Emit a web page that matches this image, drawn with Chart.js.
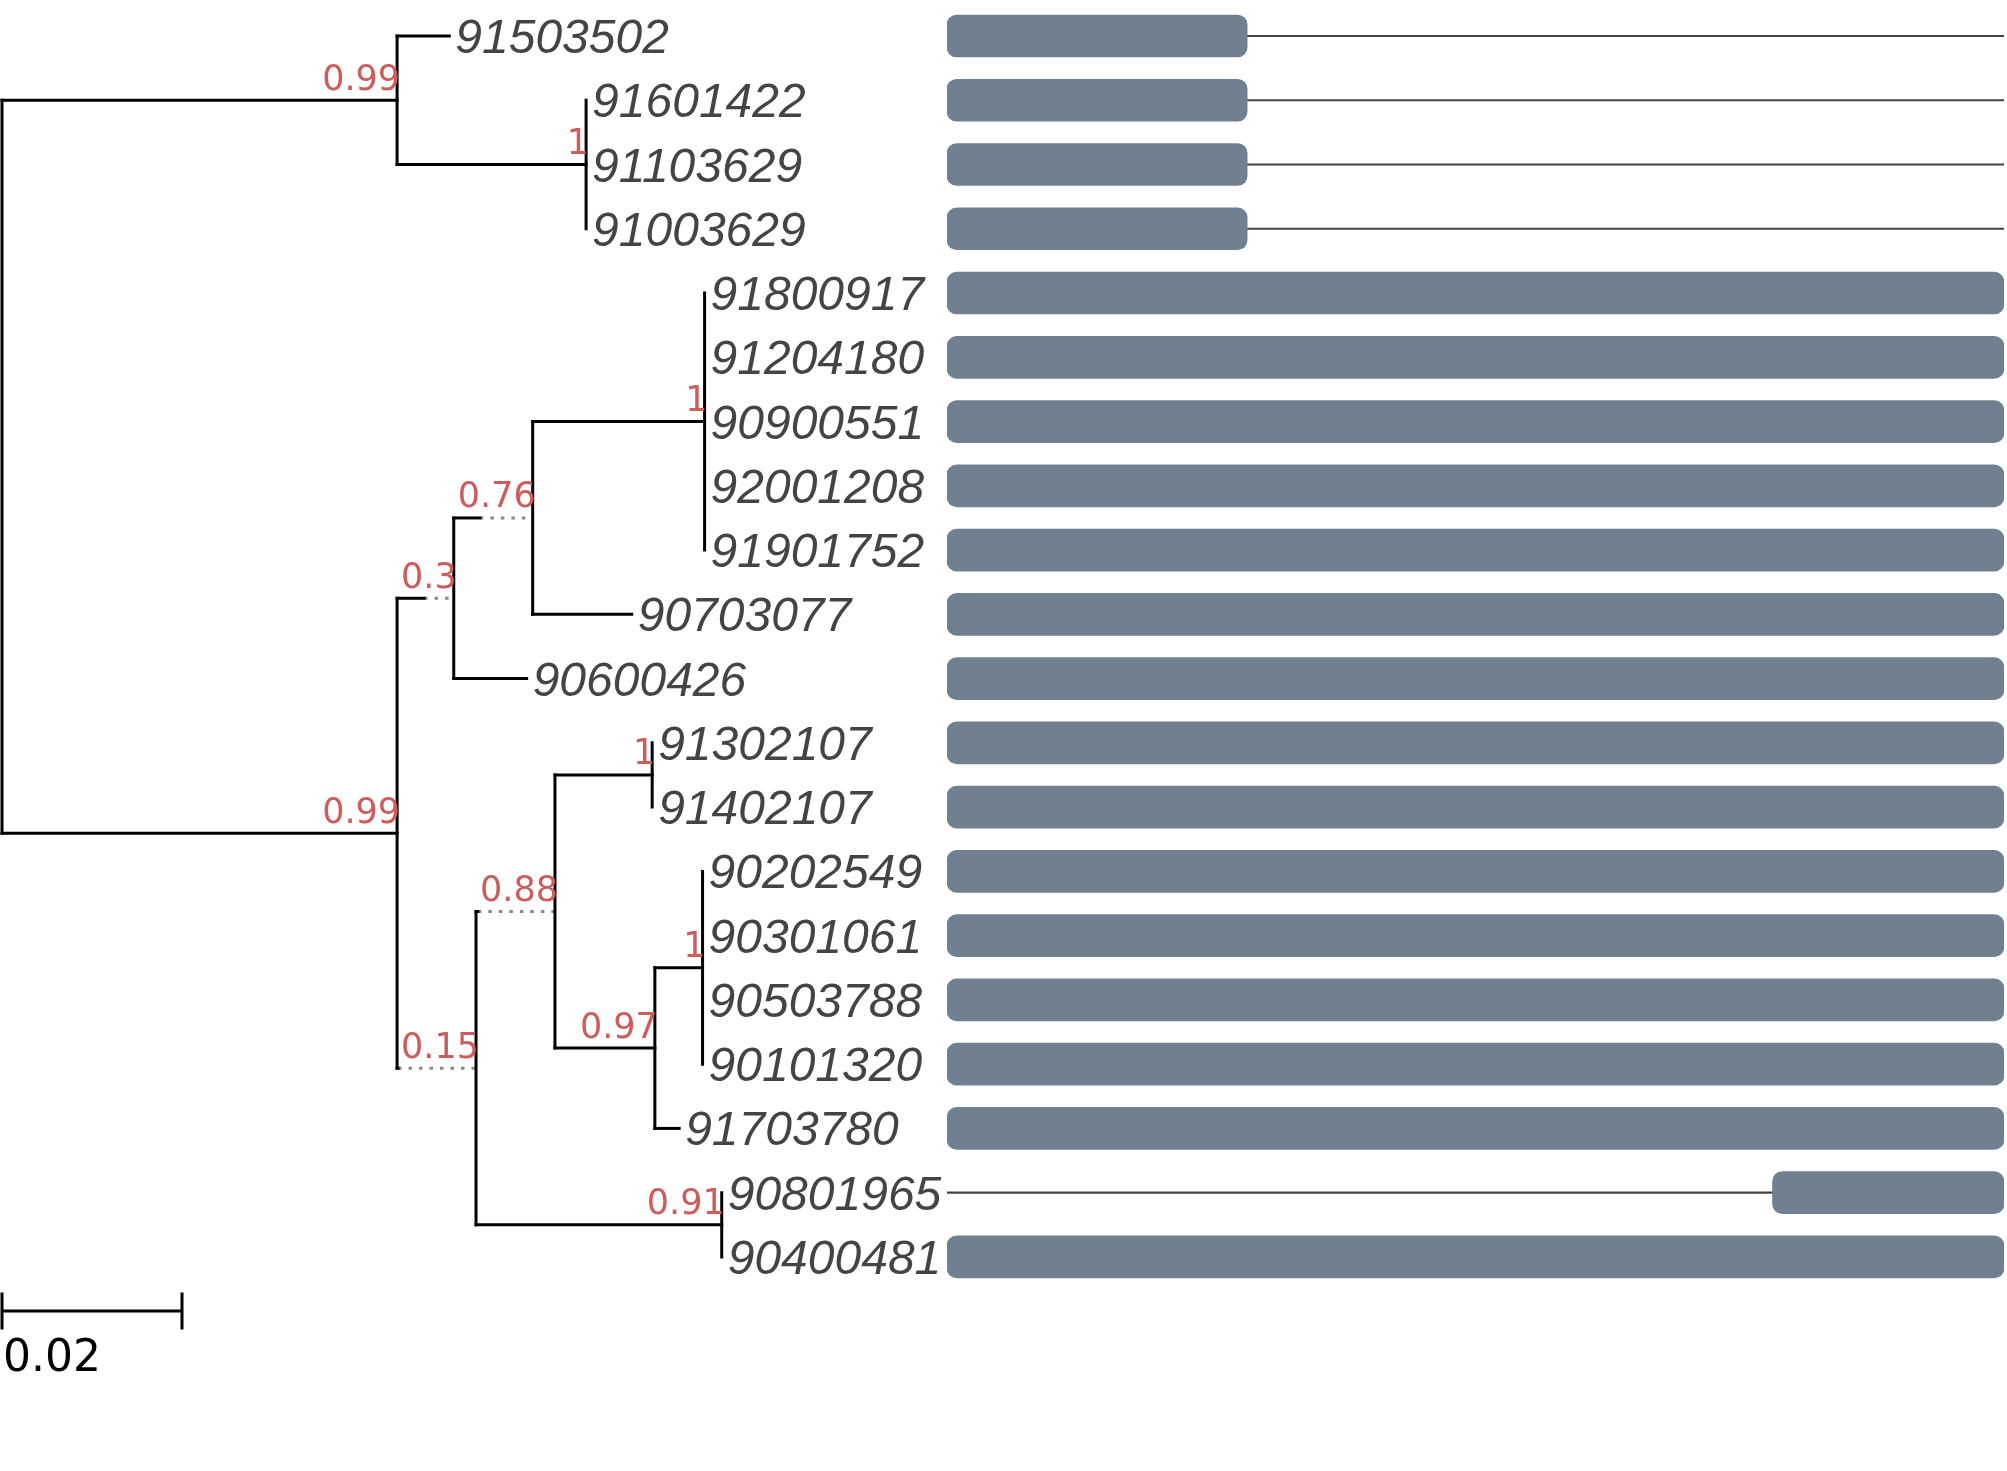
<!DOCTYPE html>
<html>
<head>
<meta charset="utf-8">
<script src="https://cdn.jsdelivr.net/npm/chart.js@4.4.1/dist/chart.umd.min.js"></script>
<style>
  html, body { margin: 0; padding: 0; background: #fff; }
  #wrap { position: relative; width: 2007px; height: 1471px; overflow: hidden; }
  #tree { position: absolute; left: 0; top: 0; }
  #domains { position: absolute; left: 940px; top: 0; }
</style>
</head>
<body>
<div id="wrap">
  <canvas id="tree" width="2007" height="1471"></canvas>
  <canvas id="domains" width="1067" height="1471"></canvas>
</div>
<script>
// Leaves, top to bottom
const leafNames = ['91503502', '91601422', '91103629', '91003629', '91800917', '91204180',
  '90900551', '92001208', '91901752', '90703077', '90600426', '91302107', '91402107',
  '90202549', '90301061', '90503788', '90101320', '91703780', '90801965', '90400481'];
const leafParents = ['A', 'B', 'B', 'B', 'F', 'F', 'F', 'F', 'F', 'E', 'D', 'I', 'I',
  'K', 'K', 'K', 'K', 'J', 'L', 'L'];
const leafLengths = [0.0058, 0, 0, 0, 0, 0, 0, 0, 0, 0.0110, 0.0081, 0, 0,
  0, 0, 0, 0, 0.0027, 0, 0];

// Internal nodes (parents listed before children)
const nodeNames = ['root', 'A', 'B', 'C', 'D', 'E', 'F', 'G', 'H', 'I', 'J', 'K', 'L'];
const nodeParents = [null, 'root', 'A', 'root', 'C', 'D', 'E', 'C', 'G', 'H', 'H', 'J', 'G'];
const nodeLengths = [0, 0.0439, 0.0210, 0.0439, 0.0030, 0.0029, 0.0191, 0.0001, 0.0002,
  0.0108, 0.0111, 0.0053, 0.0273];
const nodeSupports = [null, '0.99', '1', '0.99', '0.3', '0.76', '1', '0.15', '0.88',
  '1', '0.97', '1', '0.91'];

// Scale bar
const scaleBarLength = 0.02;
const scaleBarLabel = '0.02';

// Domain architecture per leaf
const seqLength = 1000;
const domainStart = [0, 0, 0, 0, 0, 0, 0, 0, 0, 0, 0, 0, 0, 0, 0, 0, 0, 0, 781, 0];
const domainEnd = [284, 284, 284, 284, 1000, 1000, 1000, 1000, 1000, 1000, 1000, 1000,
  1000, 1000, 1000, 1000, 1000, 1000, 1000, 1000];

// Layout
const W = 2007, H = 1471;
const PX_PER_UNIT = 9000;
const ROOT_PX = 2;
const ROW0_PX = 36;
const ROW_PX = 64.26;

const supportFont = '35px "DejaVu Sans"';
const leafFont = 'italic 48px "Liberation Sans"';
const measure = document.createElement('canvas').getContext('2d');
measure.font = supportFont;

// Node positions; a branch is stretched (dotted) when its support label is wider
const xPos = {}, yPos = {}, solidEnd = {};
nodeNames.forEach((n, i) => {
  const p = nodeParents[i];
  if (p === null) { xPos[n] = 0; solidEnd[n] = 0; return; }
  const len = nodeLengths[i];
  const minLen = nodeSupports[i] ? (measure.measureText(nodeSupports[i]).width + 1) / PX_PER_UNIT : 0;
  solidEnd[n] = xPos[p] + len;
  xPos[n] = xPos[p] + Math.max(len, minLen);
});
const leafX = leafNames.map((_, i) => xPos[leafParents[i]] + leafLengths[i]);

const childYs = {};
nodeNames.forEach(n => { childYs[n] = []; });
leafNames.forEach((_, i) => childYs[leafParents[i]].push(i));
for (let i = nodeNames.length - 1; i >= 0; i--) {
  const n = nodeNames[i];
  const ys = childYs[n];
  yPos[n] = (Math.min(...ys) + Math.max(...ys)) / 2;
  if (nodeParents[i]) childYs[nodeParents[i]].push(yPos[n]);
}

// Segments
const segments = [];
nodeNames.forEach((n, i) => {
  const p = nodeParents[i];
  const ys = childYs[n];
  segments.push({ pts: [{x: xPos[n], y: Math.min(...ys)}, {x: xPos[n], y: Math.max(...ys)}] });
  if (p === null) return;
  segments.push({ pts: [{x: xPos[p], y: yPos[n]}, {x: solidEnd[n], y: yPos[n]}] });
  if (xPos[n] - solidEnd[n] > 1e-6) {
    segments.push({ pts: [{x: solidEnd[n], y: yPos[n]}, {x: xPos[n], y: yPos[n]}], dotted: true });
  }
});
leafNames.forEach((_, i) => {
  if (leafLengths[i] > 0) {
    const p = leafParents[i];
    segments.push({ pts: [{x: xPos[p], y: i}, {x: leafX[i], y: i}] });
  }
});

// Scale bar below the last row
const sbY = leafNames.length - 1 + 54 / ROW_PX;
const sbTick = 18.5 / ROW_PX;
segments.push({ pts: [{x: 0, y: sbY}, {x: scaleBarLength, y: sbY}], butt: true });
segments.push({ pts: [{x: 0, y: sbY - sbTick}, {x: 0, y: sbY + sbTick}], butt: true });
segments.push({ pts: [{x: scaleBarLength, y: sbY - sbTick}, {x: scaleBarLength, y: sbY + sbTick}], butt: true });

const treeLabels = {
  id: 'treeLabels',
  afterDatasetsDraw(chart) {
    const {ctx, scales: {x, y}} = chart;
    ctx.save();
    ctx.textBaseline = 'alphabetic';

    ctx.font = leafFont;
    ctx.fillStyle = '#444';
    ctx.textAlign = 'left';
    leafNames.forEach((name, i) => {
      ctx.fillText(name, x.getPixelForValue(leafX[i]) + 6, y.getPixelForValue(i) + 17);
    });

    ctx.font = supportFont;
    ctx.fillStyle = '#cd5c5c';
    ctx.textAlign = 'right';
    nodeNames.forEach((n, i) => {
      if (!nodeSupports[i]) return;
      ctx.fillText(nodeSupports[i], x.getPixelForValue(xPos[n]) + 3, y.getPixelForValue(yPos[n]) - 10.5);
    });

    ctx.font = '44px "DejaVu Sans"';
    ctx.fillStyle = '#000';
    ctx.textAlign = 'left';
    ctx.fillText(scaleBarLabel, x.getPixelForValue(0) + 1, y.getPixelForValue(sbY) + 60);
    ctx.restore();
  }
};

new Chart(document.getElementById('tree'), {
  type: 'scatter',
  data: {
    datasets: segments.map(s => ({
      data: s.pts,
      showLine: true,
      borderColor: s.dotted ? '#8a8a8a' : '#000',
      borderWidth: 3,
      borderDash: s.dotted ? [3.5, 7] : [],
      borderCapStyle: (s.dotted || s.butt) ? 'butt' : 'square',
      pointRadius: 0,
      pointHoverRadius: 0,
      clip: false
    }))
  },
  options: {
    responsive: false,
    animation: false,
    events: [],
    layout: { padding: 0 },
    plugins: { legend: { display: false }, tooltip: { enabled: false } },
    scales: {
      x: { type: 'linear', display: false, min: -ROOT_PX / PX_PER_UNIT, max: (W - ROOT_PX) / PX_PER_UNIT },
      y: { type: 'linear', display: false, reverse: true, min: -ROW0_PX / ROW_PX, max: -ROW0_PX / ROW_PX + H / ROW_PX }
    }
  },
  plugins: [treeLabels]
});

// Domain bars, one category per leaf
const bandH = ROW_PX * leafNames.length;
const bandTop = ROW0_PX - ROW_PX / 2;
new Chart(document.getElementById('domains'), {
  type: 'bar',
  data: {
    labels: leafNames,
    datasets: [
      {
        data: leafNames.map((_, i) => [domainStart[i], domainEnd[i]]),
        backgroundColor: '#708090',
        borderRadius: 10,
        borderSkipped: false,
        barThickness: 42,
        grouped: false
      },
      {
        data: leafNames.map(() => [0, seqLength]),
        backgroundColor: '#444',
        barThickness: 1.5,
        grouped: false
      }
    ]
  },
  options: {
    indexAxis: 'y',
    responsive: false,
    animation: false,
    events: [],
    layout: { padding: { left: 7, right: 3, top: bandTop, bottom: H - bandTop - bandH } },
    plugins: { legend: { display: false }, tooltip: { enabled: false } },
    scales: {
      x: { display: false, min: 0, max: seqLength },
      y: { display: false }
    }
  }
});
</script>
</body>
</html>
